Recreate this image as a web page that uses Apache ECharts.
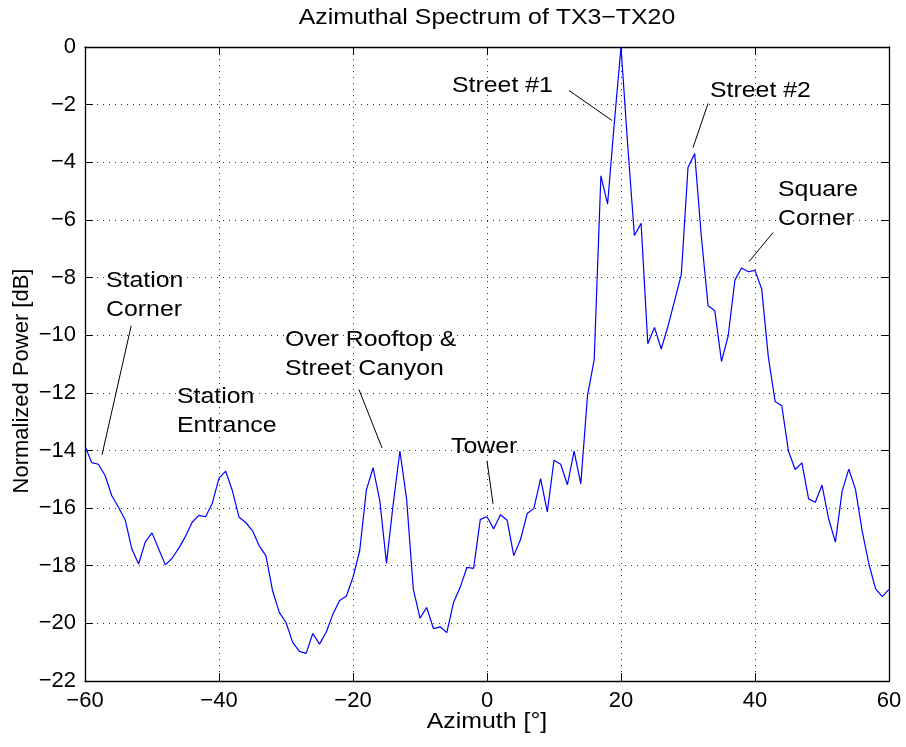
<!DOCTYPE html>
<html>
<head>
<meta charset="utf-8">
<title>Azimuthal Spectrum of TX3−TX20</title>
<script src="https://cdn.jsdelivr.net/npm/echarts@6/dist/echarts.min.js"></script>
<style>
  html, body { margin: 0; padding: 0; background: #fff; }
  #chart { width: 906px; height: 747px; }
</style>
</head>
<body>
<div id="chart"></div>
<script>
// Azimuth grid in degrees, 1° steps from -60 to 60
const azimuthStart = -60;
const azimuthStep = 1;

// Normalized power [dB] per azimuth step
const normalizedPower = [
  -13.85, -14.42, -14.48, -14.87, -15.57, -15.97, -16.41, -17.42, -17.94, -17.17,
  -16.86, -17.42, -17.97, -17.74, -17.39, -16.98, -16.49, -16.25, -16.30, -15.83,
  -14.96, -14.72, -15.40, -16.32, -16.50, -16.79, -17.31, -17.65, -18.87, -19.62,
  -19.97, -20.66, -20.97, -21.04, -20.35, -20.72, -20.31, -19.68, -19.21, -19.06,
  -18.40, -17.48, -15.37, -14.60, -15.74, -17.92, -15.86, -14.02, -15.68, -18.81,
  -19.82, -19.45, -20.18, -20.12, -20.32, -19.28, -18.75, -18.06, -18.09, -16.39,
  -16.30, -16.72, -16.23, -16.42, -17.65, -17.09, -16.19, -16.01, -14.98, -16.13,
  -14.34, -14.48, -15.19, -14.02, -15.16, -12.10, -10.85, -4.47, -5.45, -2.64,
  0.00, -3.40, -6.54, -6.12, -10.30, -9.73, -10.48, -9.70, -8.80, -7.90,
  -4.18, -3.70, -6.60, -8.98, -9.15, -10.91, -10.02, -8.09, -7.67, -7.80,
  -7.75, -8.40, -10.77, -12.30, -12.45, -14.03, -14.66, -14.43, -15.68, -15.80,
  -15.20, -16.38, -17.18, -15.42, -14.65, -15.35, -16.80, -17.94, -18.80, -19.07,
  -18.82
];

// Axis ticks
const xTicks = [-60, -40, -20, 0, 20, 40, 60];
const yTicks = [-22, -20, -18, -16, -14, -12, -10, -8, -6, -4, -2, 0];

// Annotation texts and their leader lines (data coordinates: [azimuth, dB])
const annotationLabels = [
  { lines: ['Station', 'Corner'], at: [106, 281] },
  { lines: ['Station', 'Entrance'], at: [177, 397] },
  { lines: ['Over Rooftop &', 'Street Canyon'], at: [285, 340] },
  { lines: ['Tower'], at: [451, 447] },
  { lines: ['Street #1'], at: [452, 86] },
  { lines: ['Street #2'], at: [710, 91] },
  { lines: ['Square', 'Corner'], at: [778, 190] }
];
const leaderFrom = [[-53.1, -9.67], [-19.1, -11.89], [0.0, -14.36], [12.24, -1.51], [32.99, -1.96], [42.69, -6.44]];
const leaderTo   = [[-57.46, -14.15], [-15.67, -13.91], [0.9, -15.85], [18.66, -2.55], [30.75, -3.49], [39.1, -7.45]];

const FONT = "'Liberation Sans', Arial, Helvetica, sans-serif";
const minus = v => (v < 0 ? '\u2212' + Math.abs(v) : String(v));

const seriesData = normalizedPower.map((p, i) => [azimuthStart + i * azimuthStep, p]);

const gridLine = { show: true, lineStyle: { color: '#333', width: 1, type: [1, 5] } };
const boxLine = { show: true, onZero: false, lineStyle: { color: '#000', width: 1.3 } };
const inTick = { show: true, inside: true, length: 8, lineStyle: { color: '#000', width: 1 } };

const xBase = {
  type: 'value',
  min: xTicks[0],
  max: xTicks[xTicks.length - 1],
  interval: xTicks[1] - xTicks[0]
};
const yBase = {
  type: 'value',
  min: yTicks[0],
  max: yTicks[yTicks.length - 1],
  interval: yTicks[1] - yTicks[0]
};

function textEl(text, x, y, align, rotation) {
  return {
    type: 'text', x: x, y: y, scaleX: rotation ? 1 : 1.13, rotation: rotation || 0, silent: true,
    style: { text: text, font: '22px ' + FONT, fontSize: 22, fontFamily: FONT, fill: '#000',
             align: align, verticalAlign: 'middle', textAlign: align, textVerticalAlign: 'middle' }
  };
}

const graphics = [];
graphics.push(textEl('Azimuthal Spectrum of TX3\u2212TX20', 487, 18, 'center'));
graphics.push(textEl('Azimuth [\u00b0]', 487, 722, 'center'));
graphics.push(textEl('Normalized Power [dB]', 22, 381, 'center', Math.PI / 2));
annotationLabels.forEach(a => {
  a.lines.forEach((t, k) => graphics.push(textEl(t, a.at[0], a.at[1] + k * 29, 'left')));
});

const chart = echarts.init(document.getElementById('chart'), null, { renderer: 'canvas' });
chart.setOption({
  animation: false,
  backgroundColor: '#fff',
  textStyle: { fontFamily: FONT },
  grid: { left: 85, right: 17, top: 47, bottom: 66, containLabel: false },
  xAxis: [
    Object.assign({}, xBase, {
      position: 'bottom',
      axisLine: boxLine,
      axisTick: inTick,
      axisLabel: { color: '#000', fontSize: 22, margin: 9, fontFamily: FONT, formatter: minus },
      splitLine: gridLine
    }),
    Object.assign({}, xBase, {
      position: 'top',
      axisLine: boxLine,
      axisTick: inTick,
      axisLabel: { show: false },
      splitLine: { show: false }
    })
  ],
  yAxis: [
    Object.assign({}, yBase, {
      position: 'left',
      axisLine: boxLine,
      axisTick: inTick,
      axisLabel: { color: '#000', fontSize: 22, margin: 9, fontFamily: FONT, formatter: minus },
      splitLine: gridLine
    }),
    Object.assign({}, yBase, {
      position: 'right',
      axisLine: boxLine,
      axisTick: inTick,
      axisLabel: { show: false },
      splitLine: { show: false }
    })
  ],
  series: [{
    type: 'line',
    xAxisIndex: 0,
    yAxisIndex: 0,
    data: seriesData,
    showSymbol: false,
    symbol: 'none',
    lineStyle: { color: '#0000ff', width: 1.2 },
    markLine: {
      silent: true,
      animation: false,
      symbol: ['none', 'none'],
      label: { show: false },
      lineStyle: { color: '#000', width: 1, type: 'solid' },
      data: leaderFrom.map((p, i) => [{ coord: p }, { coord: leaderTo[i] }])
    }
  }],
  graphic: graphics
});
</script>
</body>
</html>
